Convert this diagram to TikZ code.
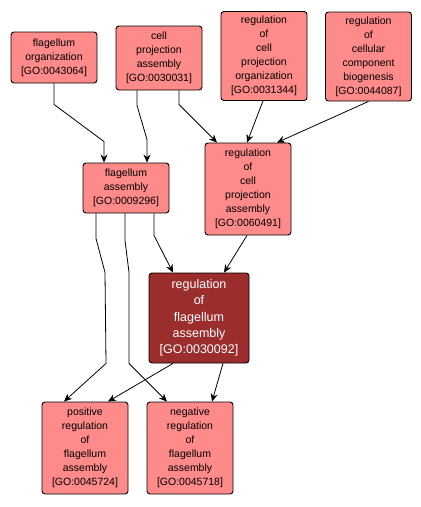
\documentclass[tikz,border=0pt]{standalone}
\usepackage{fontspec}
\setmainfont{Liberation Sans}
\usetikzlibrary{arrows.meta}
\definecolor{golight}{RGB}{255,138,138}
\definecolor{godark}{RGB}{155,45,45}
\begin{document}
\begin{tikzpicture}[x=1pt,y=-1pt,
  term/.style={draw,line width=.9pt,rounded corners=3pt,fill=golight,align=center,inner sep=0pt,
    minimum width=86pt,font=\fontsize{10.5}{14}\selectfont},
  hit/.style={term,fill=godark,text=white,minimum width=100pt,font=\fontsize{12.5}{16.3}\selectfont},
  edge/.style={line width=.8pt,-{Stealth[length=8pt,width=7pt]}}]
\useasboundingbox(0,0)rectangle(421,507);
\node[term,minimum height=51pt](org)at(54,57.5){flagellum\\organization\\{[GO:0043064]}};
\node[term,minimum height=64pt](cpa)at(159,58){cell\\projection\\assembly\\{[GO:0030031]}};
\node[term,minimum height=89pt](rcpo)at(264,56){regulation\\of\\cell\\projection\\organization\\{[GO:0031344]}};
\node[term,minimum height=89pt](rccb)at(368.5,56.5){regulation\\of\\cellular\\component\\biogenesis\\{[GO:0044087]}};
\node[term,minimum height=50pt](fa)at(126,188){flagellum\\assembly\\{[GO:0009296]}};
\node[term,minimum height=92pt](rcpa)at(248,189){regulation\\of\\cell\\projection\\assembly\\{[GO:0060491]}};
\node[hit,minimum height=90pt](rfa)at(199,318){regulation\\of\\flagellum\\assembly\\{[GO:0030092]}};
\node[term,minimum height=92pt](pos)at(85,448){positive\\regulation\\of\\flagellum\\assembly\\{[GO:0045724]}};
\node[term,minimum height=92pt](neg)at(190,448){negative\\regulation\\of\\flagellum\\assembly\\{[GO:0045718]}};
% is_a links
\draw[edge](org.south)--++(0,21)--([xshift=-22pt,yshift=21pt]fa.north)--([xshift=-22pt]fa.north);
\draw[edge]([xshift=-22pt]cpa.south)--++(0,15)--([xshift=21pt,yshift=23pt]fa.north)--([xshift=21pt]fa.north);
\draw[edge]([xshift=20pt]cpa.south)--++(0,14)--([xshift=-31pt]rcpa.north);
\draw[edge]([xshift=-1pt]rcpo.south)--([xshift=-1pt]rcpa.north);
\draw[edge](rccb.south)--([xshift=29pt]rcpa.north);
\draw[edge]([xshift=28pt]fa.south)--++(0,22)--([xshift=-26pt]rfa.north);
\draw[edge]([xshift=-1pt]rcpa.south)--([xshift=25pt]rfa.north);
\draw[edge]([xshift=-30pt]fa.south)--++(0,25)--++(9,34)--++(1,91)--([xshift=-21pt]pos.north);
\draw[edge]([xshift=-1pt]fa.south)--++(0,27)--++(4,32)--++(0,91)--([xshift=-23pt]neg.north);
\draw[edge]([xshift=-26pt]rfa.south)--([xshift=23pt]pos.north);
\draw[edge]([xshift=24pt]rfa.south)--([xshift=22pt]neg.north);
\end{tikzpicture}
\end{document}
